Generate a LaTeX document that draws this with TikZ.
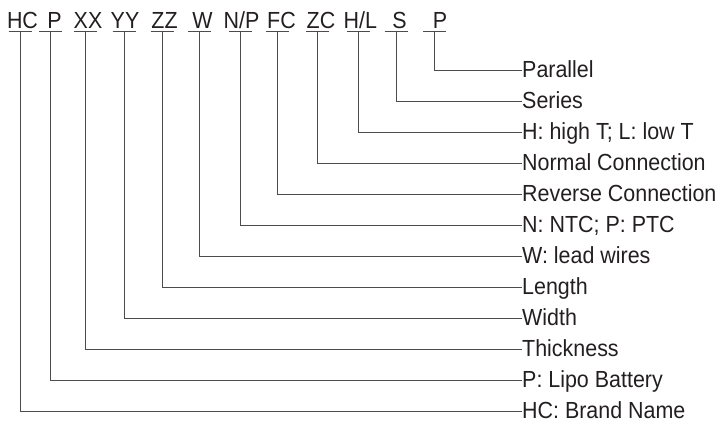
\documentclass[tikz,border=0pt]{standalone}
\usepackage{fontspec}
\setmainfont[FakeStretch=0.92]{Liberation Sans}
\usepackage{tikz}

\definecolor{ink}{HTML}{231F20}
\tikzset{
  codetext/.style={anchor=base, inner sep=0pt, text=ink, font=\fontsize{23.3}{28}\selectfont},
  labtext/.style={anchor=west, inner sep=0pt, text height=16.7pt, text depth=2.6pt, text=ink, font=\fontsize{23.3}{28}\selectfont},
  wire/.style={draw=black!70, line width=0.8pt}
}

\begin{document}
\begin{tikzpicture}[x=1pt, y=-1pt]
  \useasboundingbox (0,0) rectangle (720,422);
  % codes along the top, labels down the right
  \foreach \code/\tx/\lx/\lab [count=\i] in {
      HC/22.5/20/HC: Brand Name,
      P/54.5/50.7/P: Lipo Battery,
      XX/88/85/Thickness,
      YY/125/124/Width,
      ZZ/164.5/162/Length,
      W/202.5/199/W: lead wires,
      {N/P}/241.5/240.3/N: NTC; P: PTC,
      FC/281.5/277.7/Reverse Connection,
      ZC/321/317.3/Normal Connection,
      {H/L}/360.3/358.3/H: high T; L: low T,
      S/399.5/396/Series,
      P/440/434.7/Parallel}
  {
    \node[codetext] (code\i) at (\tx,29) {\code};
    \coordinate (tap\i) at (\lx,31);
    \node[labtext] (lab\i) at (522,{411-31*(\i-1)}) {\lab};
    \draw[wire] ([xshift=-11.5pt]tap\i) -- ([xshift=11.5pt]tap\i); % underline
    \draw[wire] (tap\i) |- (lab\i.west);
  }
\end{tikzpicture}
\end{document}
